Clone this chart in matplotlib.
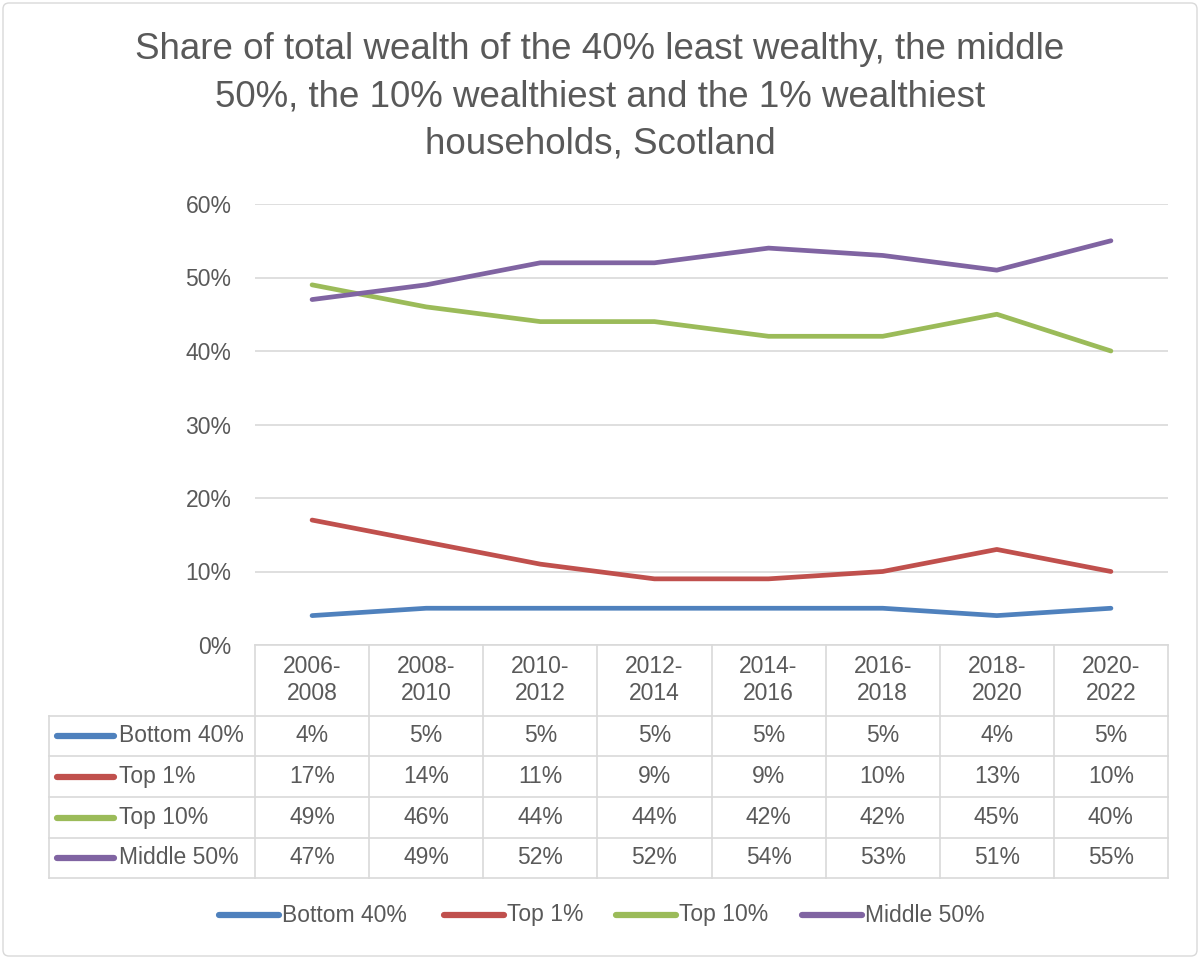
import numpy as np
import matplotlib.pyplot as plt
from matplotlib.transforms import blended_transform_factory
from matplotlib.lines import Line2D
from matplotlib.patches import FancyBboxPatch

plt.rcParams['font.family'] = ['Liberation Sans', 'DejaVu Sans']

# --- dane ---
periods = ["2006-\n2008", "2008-\n2010", "2010-\n2012", "2012-\n2014",
           "2014-\n2016", "2016-\n2018", "2018-\n2020", "2020-\n2022"]
series_names = ["Bottom 40%", "Top 1%", "Top 10%", "Middle 50%"]
bottom_40 = [4, 5, 5, 5, 5, 5, 4, 5]
top_1 = [17, 14, 11, 9, 9, 10, 13, 10]
top_10 = [49, 46, 44, 44, 42, 42, 45, 40]
middle_50 = [47, 49, 52, 52, 54, 53, 51, 55]
colors = ["#4F81BD", "#C0504D", "#9BBB59", "#8064A2"]

title = ("Share of total wealth of the 40% least wealthy, the middle\n"
         "50%, the 10% wealthiest and the 1% wealthiest\n"
         "households, Scotland")

txt = "#595959"
grid_c = "#D9D9D9"
W, H = 1200, 959
fs = 16.5

fig = plt.figure(figsize=(12, 9.59), dpi=100)
fig.patches.append(FancyBboxPatch((3, 3), W - 6, H - 6, boxstyle="round,pad=0,rounding_size=6",
                                  transform=None, fill=False, ec="#D9D9D9", lw=1))

ax = fig.add_axes([255 / W, 1 - 645 / H, (1168 - 255) / W, (645 - 204) / H])
x = np.arange(len(periods))
all_series = [bottom_40, top_1, top_10, middle_50]
for vals, c, name in zip(all_series, colors, series_names):
    ax.plot(x, vals, color=c, lw=3.4, solid_capstyle='round', label=name, zorder=3)

ax.set_xlim(-0.5, len(periods) - 0.5)
ax.set_ylim(0, 60)
ax.set_yticks(range(0, 61, 10))
ax.set_yticklabels([f"{v}%" for v in range(0, 61, 10)])
ax.tick_params(axis='y', length=0, labelsize=fs, colors=txt, pad=17)
ax.set_xticks([])
ax.grid(axis='y', color=grid_c, lw=1.2)
for s in ax.spines.values():
    s.set_visible(False)
ax.set_axisbelow(True)

fig.text(0.5, 1 - 97 / H, title, ha='center', va='center', fontsize=26.5,
         color=txt, linespacing=1.45)

# --- tabela danych ---
tr = blended_transform_factory(ax.transData, fig.transFigure)
fy = lambda py: 1 - py / H
row_lines = [716, 756, 797, 838, 878]
lw_t = 1.2
# poziome linie
fig.add_artist(Line2D([255 / W, 1168 / W], [fy(645)] * 2, color=grid_c, lw=lw_t))
for py in row_lines:
    fig.add_artist(Line2D([49 / W, 1168 / W], [fy(py)] * 2, color=grid_c, lw=lw_t))
# pionowe linie
fig.add_artist(Line2D([49 / W] * 2, [fy(716), fy(878)], color=grid_c, lw=lw_t))
for b in np.arange(len(periods) + 1) - 0.5:
    fig.add_artist(Line2D([b, b], [fy(645), fy(878)], transform=tr, color=grid_c, lw=lw_t))

for i, p in enumerate(periods):
    fig.text(i, fy(680), p, transform=tr, ha='center', va='center', fontsize=fs,
             color=txt, linespacing=1.25)

for r, (vals, c, name) in enumerate(zip(all_series, colors, series_names)):
    yc = fy((row_lines[r] + row_lines[r + 1]) / 2)
    fig.add_artist(Line2D([57 / W, 114 / W], [yc, yc], color=c, lw=4.5, solid_capstyle='round'))
    fig.text(119 / W, yc, name, ha='left', va='center', fontsize=fs, color=txt)
    for i, v in enumerate(vals):
        fig.text(i, yc, f"{v}%", transform=tr, ha='center', va='center', fontsize=fs, color=txt)

# --- legenda ---
leg_x = [219, 444, 616, 802]
for lx, c, name in zip(leg_x, colors, series_names):
    fig.add_artist(Line2D([lx / W, (lx + 60) / W], [fy(915)] * 2, color=c, lw=4.5,
                          solid_capstyle='round'))
    fig.text((lx + 63) / W, fy(915), name, ha='left', va='center', fontsize=fs, color=txt)

plt.savefig("out.png", dpi=100)
